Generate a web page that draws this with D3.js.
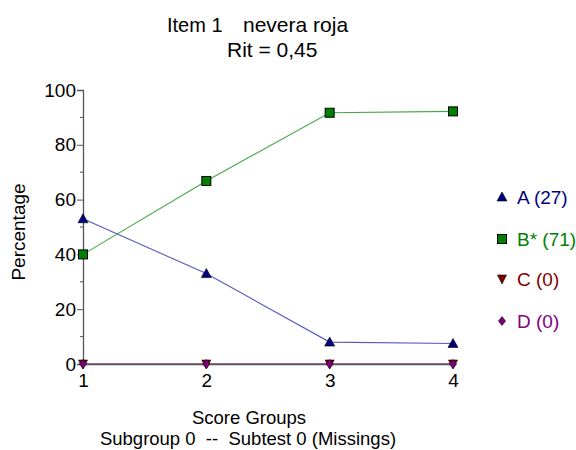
<!DOCTYPE html>
<html>
<head>
<meta charset="utf-8">
<script src="https://cdn.jsdelivr.net/npm/d3@7"></script>
<style>
  body { margin: 0; background: #fff; }
  text { font-family: "Liberation Sans", Arial, sans-serif; }
</style>
</head>
<body>
<script>
var groups = [1, 2, 3, 4];
var seriesNames = ["A (27)", "B* (71)", "C (0)", "D (0)"];
var valuesA = [53, 33, 8, 7.5];
var valuesB = [40, 66.8, 91.7, 92.2];
var valuesC = [0, 0, 0, 0];
var valuesD = [0, 0, 0, 0];
var yTicks = [0, 20, 40, 60, 80, 100];

var width = 576, height = 450;
var svg = d3.select("body").append("svg")
    .attr("width", width)
    .attr("height", height);

var x = d3.scaleLinear().domain([1, 4]).range([83, 453]);
var y = d3.scaleLinear().domain([0, 100]).range([364, 90]);

var series = [
  {name: seriesNames[0], values: valuesA, color: "#000080", line: "#5858c0", symbol: "A"},
  {name: seriesNames[1], values: valuesB, color: "#008000", line: "#44a844", symbol: "B"},
  {name: seriesNames[2], values: valuesC, color: "#800000", line: "#a04040", symbol: "C"},
  {name: seriesNames[3], values: valuesD, color: "#800080", line: "#a040a0", symbol: "D"}
];

// title
svg.append("text").attr("x", 167).attr("y", 32).style("font-size", "20px").text("Item 1");
svg.append("text").attr("x", 243).attr("y", 32).style("font-size", "21px").text("nevera roja");
svg.append("text").attr("x", 227).attr("y", 57).style("font-size", "21px").text("Rit = 0,45");

var line = d3.line()
  .x(function(d, i){ return x(groups[i]); })
  .y(function(d){ return y(d); });

series.forEach(function(s) {
  svg.append("path").datum(s.values)
    .attr("fill", "none").attr("stroke", s.line).attr("stroke-width", 1.1)
    .attr("d", line);
});

// y axis
var yAxis = d3.axisLeft(y).tickValues(yTicks).tickSize(6).tickPadding(1);
var gy = svg.append("g").attr("transform", "translate(83,0)").call(yAxis);
gy.select(".domain").attr("stroke", "#555").attr("stroke-width", 1.3);
gy.selectAll(".tick line").attr("stroke", "#555");
gy.selectAll(".tick text").style("font-size", "19px").attr("fill", "#000")
  .style("font-family", "Liberation Sans, Arial, sans-serif");
// minor ticks
svg.append("g").selectAll("line").data([10, 30, 50, 70, 90]).enter().append("line")
  .attr("x1", 80).attr("x2", 83)
  .attr("y1", function(d){ return y(d); }).attr("y2", function(d){ return y(d); })
  .attr("stroke", "#555");

// x axis
var xAxis = d3.axisBottom(x).tickValues(groups).tickSize(0).tickPadding(10).tickFormat(d3.format("d"));
var gx = svg.append("g").attr("transform", "translate(0,364)").call(xAxis);
gx.select(".domain").attr("stroke", "#555").attr("stroke-width", 1.3);
gx.selectAll(".tick text").style("font-size", "19px").attr("fill", "#000")
  .style("font-family", "Liberation Sans, Arial, sans-serif");

// axis labels
svg.append("text").attr("transform", "translate(25,232) rotate(-90)")
  .attr("text-anchor", "middle").style("font-size", "19px").text("Percentage");
svg.append("text").attr("x", 249).attr("y", 424).attr("text-anchor", "middle")
  .style("font-size", "18.5px").text("Score Groups");
svg.append("text").attr("x", 248).attr("y", 445).attr("text-anchor", "middle")
  .style("font-size", "18.5px").attr("xml:space", "preserve").text("Subgroup 0  --  Subtest 0 (Missings)");

function marker(g, sym, color) {
  if (sym === "A") {
    g.append("path").attr("d", "M0,-5L5,4L-5,4Z").attr("fill", color).attr("stroke", "#000").attr("stroke-width", 0.6);
  } else if (sym === "B") {
    g.append("rect").attr("x", -4.5).attr("y", -4.5).attr("width", 9).attr("height", 9)
      .attr("fill", color).attr("stroke", "#000").attr("stroke-width", 1);
  } else if (sym === "C") {
    g.append("path").attr("d", "M0,5L4.5,-4L-4.5,-4Z").attr("fill", color).attr("stroke", "#000").attr("stroke-width", 0.6);
  } else {
    g.append("path").attr("d", "M0,-4.5L3.5,0L0,4.5L-3.5,0Z").attr("fill", color).attr("stroke", "#000").attr("stroke-width", 0.6);
  }
}

series.forEach(function(s) {
  s.values.forEach(function(v, i) {
    var g = svg.append("g").attr("transform", "translate(" + x(groups[i]) + "," + y(v) + ")");
    marker(g, s.symbol, s.color);
  });
});

// legend
var legendY = [197, 239, 279, 321];
series.forEach(function(s, i) {
  var g = svg.append("g").attr("transform", "translate(502," + legendY[i] + ")");
  marker(g, s.symbol, s.color);
  svg.append("text").attr("x", 517).attr("y", legendY[i] + 7)
    .attr("fill", s.color).style("font-size", "19px").text(s.name);
});
</script>
</body>
</html>
